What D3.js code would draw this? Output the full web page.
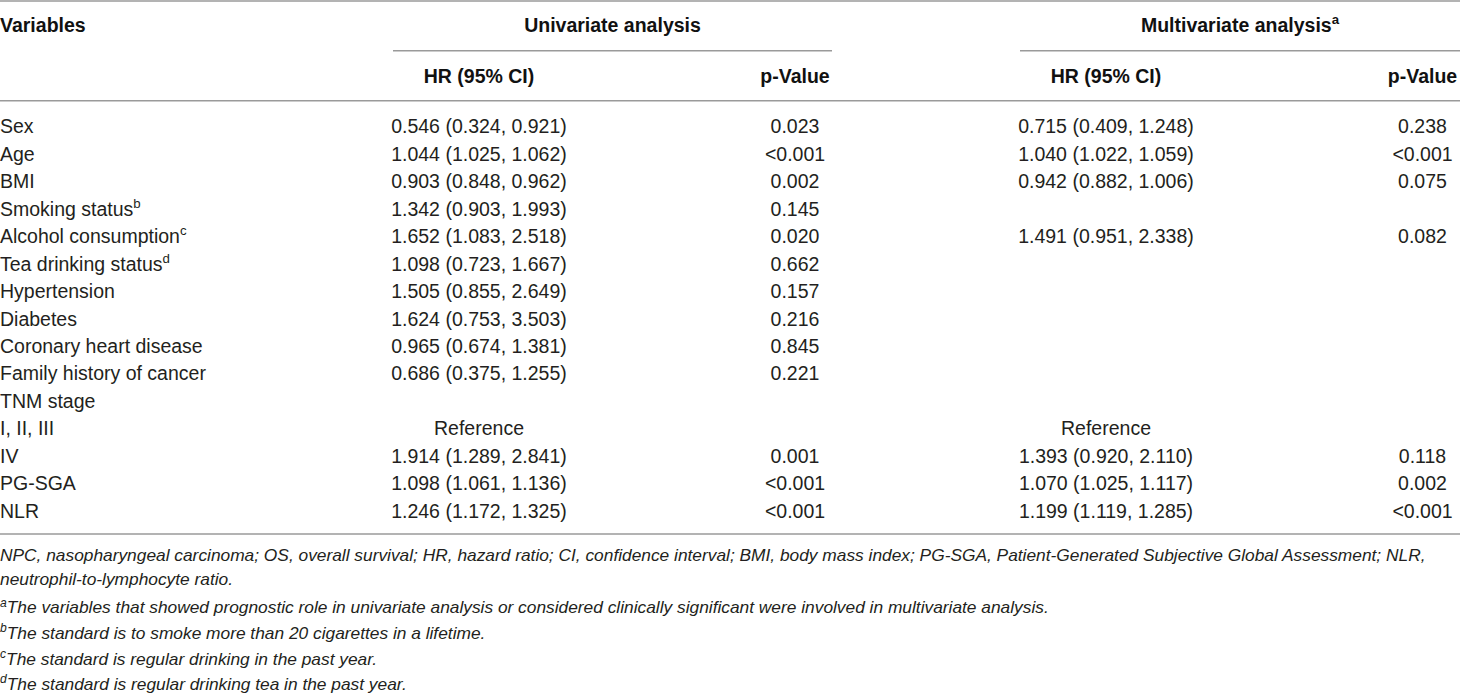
<!DOCTYPE html>
<html>
<head>
<meta charset="utf-8">
<script src="https://cdn.jsdelivr.net/npm/d3@7"></script>
<style>
  html, body { margin: 0; padding: 0; background: #fff; }
  svg { display: block; }
</style>
</head>
<body>
<div id="chart"></div>
<script>
// table content
const variables = ["Sex", "Age", "BMI", "Smoking status", "Alcohol consumption", "Tea drinking status",
    "Hypertension", "Diabetes", "Coronary heart disease", "Family history of cancer", "TNM stage",
    "I, II, III", "IV", "PG-SGA", "NLR"];
const variableSup = ["", "", "", "b", "c", "d", "", "", "", "", "", "", "", "", ""];
const uniHR = ["0.546 (0.324, 0.921)", "1.044 (1.025, 1.062)", "0.903 (0.848, 0.962)", "1.342 (0.903, 1.993)",
    "1.652 (1.083, 2.518)", "1.098 (0.723, 1.667)", "1.505 (0.855, 2.649)", "1.624 (0.753, 3.503)",
    "0.965 (0.674, 1.381)", "0.686 (0.375, 1.255)", "", "Reference", "1.914 (1.289, 2.841)",
    "1.098 (1.061, 1.136)", "1.246 (1.172, 1.325)"];
const uniP = ["0.023", "<0.001", "0.002", "0.145", "0.020", "0.662", "0.157", "0.216", "0.845", "0.221",
    "", "", "0.001", "<0.001", "<0.001"];
const multiHR = ["0.715 (0.409, 1.248)", "1.040 (1.022, 1.059)", "0.942 (0.882, 1.006)", "",
    "1.491 (0.951, 2.338)", "", "", "", "", "", "", "Reference", "1.393 (0.920, 2.110)",
    "1.070 (1.025, 1.117)", "1.199 (1.119, 1.285)"];
const multiP = ["0.238", "<0.001", "0.075", "", "0.082", "", "", "", "", "", "", "", "0.118", "0.002", "<0.001"];

const groupHeaders = ["Univariate analysis", "Multivariate analysis"];
const groupHeaderSup = ["", "a"];
const subHeaders = ["HR (95% CI)", "p-Value", "HR (95% CI)", "p-Value"];

const footnotes = [
    "NPC, nasopharyngeal carcinoma; OS, overall survival; HR, hazard ratio; CI, confidence interval; BMI, body mass index; PG-SGA, Patient-Generated Subjective Global Assessment; NLR,",
    "neutrophil-to-lymphocyte ratio.",
    "The variables that showed prognostic role in univariate analysis or considered clinically significant were involved in multivariate analysis.",
    "The standard is to smoke more than 20 cigarettes in a lifetime.",
    "The standard is regular drinking in the past year.",
    "The standard is regular drinking tea in the past year."
];
const footnoteSup = ["", "", "a", "b", "c", "d"];

// layout
const W = 1460, H = 695;
const font = "'Liberation Sans', Arial, Helvetica, sans-serif";
const colors = { text: "#231f20", head: "#111", rule: "#9a9a9a" };

const svg = d3.select("#chart").append("svg")
    .attr("viewBox", [0, 0, W, H])
    .attr("width", W)
    .attr("height", H)
    .style("font-family", font);

// column centres: uni HR, uni p, multi HR, multi p
const colX = [479, 795, 1106, 1422.5];
const groupSpan = [[393, 832], [1020, 1460]];

const y = d3.scaleLinear().domain([0, variables.length - 1]).range([133.3, 517.7]);

function hline(x1, x2, yy) {
    svg.append("line")
        .attr("x1", x1).attr("x2", x2)
        .attr("y1", yy).attr("y2", yy)
        .attr("stroke", colors.rule)
        .attr("stroke-width", 1.6);
}

function textWithSup(g, x, yy, str, sup, opts) {
    const t = g.append("text")
        .attr("x", x).attr("y", yy)
        .attr("text-anchor", opts.anchor || "start")
        .attr("font-size", opts.size)
        .attr("font-weight", opts.weight || "normal")
        .attr("font-style", opts.style || "normal")
        .attr("fill", opts.fill);
    if (opts.supFirst && sup) {
        t.append("tspan").attr("font-size", opts.size * 0.7).attr("dy", -opts.size * 0.4).text(sup);
        t.append("tspan").attr("dy", opts.size * 0.4).text(str);
    } else {
        t.append("tspan").text(str);
        if (sup) t.append("tspan").attr("font-size", opts.size * 0.68).attr("dy", -opts.size * 0.4).text(sup);
    }
    return t;
}

// rules
hline(0, W, 1);
groupSpan.forEach(s => hline(s[0], s[1], 50.7));
hline(0, W, 100.7);
hline(0, W, 534);

// header
const head = svg.append("g");
textWithSup(head, 0, 32, "Variables", "", { size: 19.5, weight: "bold", fill: colors.head });
groupHeaders.forEach((g, i) => {
    textWithSup(head, (groupSpan[i][0] + groupSpan[i][1]) / 2, 32, g, groupHeaderSup[i],
        { size: 19.5, weight: "bold", fill: colors.head, anchor: "middle" });
});
subHeaders.forEach((s, i) => {
    textWithSup(head, colX[i], 83, s, "", { size: 19.5, weight: "bold", fill: colors.head, anchor: "middle" });
});

// body
const body = svg.append("g");
variables.forEach((v, i) => {
    textWithSup(body, 0, y(i), v, variableSup[i], { size: 19.5, fill: colors.text });
});
[uniHR, uniP, multiHR, multiP].forEach((col, c) => {
    body.selectAll(null)
        .data(col)
        .join("text")
        .attr("x", colX[c])
        .attr("y", (d, i) => y(i))
        .attr("text-anchor", "middle")
        .attr("font-size", 19.5)
        .attr("fill", colors.text)
        .text(d => d);
});

// footnotes
const footY = [561, 585.5, 613.5, 639, 665, 690];
const foot = svg.append("g");
const footTexts = footnotes.map((f, i) =>
    textWithSup(foot, 0, footY[i], f, footnoteSup[i], { size: 17, style: "italic", fill: colors.text, supFirst: true }));
// the source font is narrower; squeeze to the first line's width
const k = 1446 / footTexts[0].node().getComputedTextLength();
foot.attr("transform", `scale(${Math.min(1.02, k)},1)`);
</script>
</body>
</html>
